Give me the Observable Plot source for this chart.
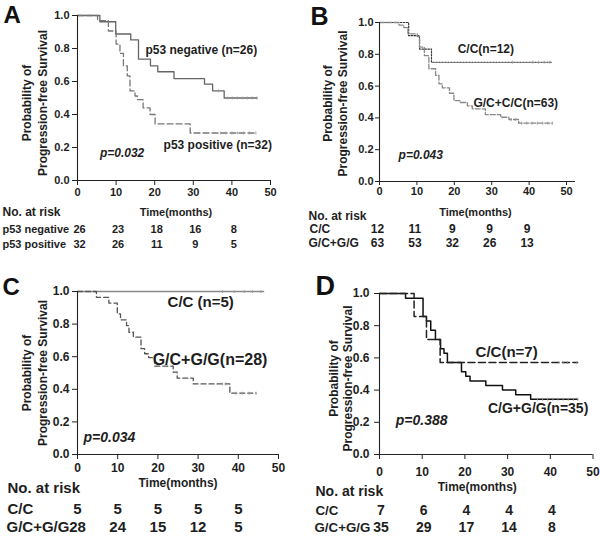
<!DOCTYPE html>
<html><head><meta charset="utf-8">
<script src="https://cdn.jsdelivr.net/npm/d3@7"></script>
<script src="https://cdn.jsdelivr.net/npm/@observablehq/plot@0.6"></script>
<style>
body{margin:0;background:#fff;}
#fig{position:relative;width:600px;height:538px;overflow:hidden;background:#fff;}
.panel{position:absolute;width:300px;height:269px;}
</style></head><body><div id="fig"></div><script>
// ---------- shared ----------
const yTicks = [0, 0.2, 0.4, 0.6, 0.8, 1.0];
const xTicks = [0, 10, 20, 30, 40, 50];
const riskTimes = [0, 10, 20, 30, 40];
const yTitleLines = ["Probability of", "Progression-free Survival"];
const xTitle = "Time(months)";
const riskHeader = "No. at risk";

// ---------- Panel A ----------
const aNegTime = [0, 5.8, 9.9, 13.8, 15.8, 18.9, 20.8, 25, 32.9, 35, 38, 46.5];
const aNegSurv = [1, 0.962, 0.888, 0.852, 0.736, 0.695, 0.659, 0.618, 0.584, 0.543, 0.5, 0.5];
const aNegCensor = [36.5, 38.8, 40.1, 41.4, 42.7, 44, 45.3, 46.5];
const aPosTime = [0, 5.2, 8, 10, 11, 11.9, 12.9, 13.6, 14.9, 15.5, 17, 18.8, 20.1, 29.2, 46.2];
const aPosSurv = [1, 0.969, 0.906, 0.827, 0.77, 0.695, 0.634, 0.543, 0.512, 0.49, 0.44, 0.40, 0.343, 0.288, 0.288];
const aPosCensor = [37, 38.5, 40, 41.5, 43, 44.5, 46.2];
const aGroups = ["p53 negative (n=26)", "p53 positive (n=32)"];
const aRiskLabels = ["p53 negative", "p53 positive"];
const aRiskNeg = [26, 23, 18, 16, 8];
const aRiskPos = [32, 26, 11, 9, 5];
const aP = "p=0.032";

// ---------- Panel B ----------
const bCCTime = [0, 7.8, 10.7, 13.9, 45.9];
const bCCSurv = [1, 0.917, 0.833, 0.75, 0.75];
const bCCCensor = [35.6, 41, 42.5, 44, 45.5];
const bGTime = [0, 5.2, 6.5, 7.6, 10.1, 10.7, 12, 13.2, 15, 15.9, 16.8, 18.7, 19.9, 21.5, 23.5, 24.8, 28.3, 32.4, 34.6, 37.2, 46.2];
const bGSurv = [1, 0.984, 0.968, 0.929, 0.912, 0.845, 0.792, 0.709, 0.667, 0.614, 0.589, 0.555, 0.509, 0.497, 0.476, 0.457, 0.42, 0.404, 0.39, 0.367, 0.367];
const bGCensor = [35.2, 36.3, 38, 39.4, 40.8, 42.2, 43.6, 45, 46.2];
const bGroups = ["C/C(n=12)", "G/C+C/C(n=63)"];
const bRiskLabels = ["C/C", "G/C+G/G"];
const bRiskCC = [12, 11, 9, 9, 9];
const bRiskG = [63, 53, 32, 26, 13];
const bP = "p=0.043";

// ---------- Panel C ----------
const cCCTime = [0, 46.3];
const cCCSurv = [1, 1];
const cCCCensor = [36.1, 39, 41.5, 43.5, 45.6];
const cGTime = [0, 4.7, 7.8, 9.9, 10.7, 12.2, 12.8, 13.9, 15.8, 16.7, 17.7, 19.2, 23.8, 24.8, 28.8, 37.9, 44.4];
const cGSurv = [1, 0.964, 0.929, 0.863, 0.826, 0.791, 0.75, 0.72, 0.649, 0.618, 0.594, 0.542, 0.505, 0.468, 0.433, 0.376, 0.376];
const cGCensor = [36.1, 36.9, 39.4, 41, 42.7, 44.4];
const cGroups = ["C/C (n=5)", "G/C+G/G(n=28)"];
const cRiskLabels = ["C/C", "G/C+G/G"];
const cRiskCC = [5, 5, 5, 5, 5];
const cRiskG = [28, 24, 15, 12, 5];
const cP = "p=0.034";

// ---------- Panel D ----------
const dGTime = [0, 6.1, 10.2, 11, 12, 13.1, 14.3, 15.1, 15.9, 19.2, 20.2, 21.2, 24.9, 28.8, 31.9, 35.4, 46.4];
const dGSurv = [1, 0.971, 0.857, 0.829, 0.771, 0.714, 0.657, 0.629, 0.571, 0.514, 0.486, 0.457, 0.429, 0.40, 0.371, 0.343, 0.343];
const dGCensor = [37, 38.2, 39.4, 40.6, 41.8, 43, 44.2, 45.4, 46.4];
const dCCTime = [0, 8.1, 11, 14.2, 46.4];
const dCCSurv = [1, 0.857, 0.714, 0.571, 0.571];
const dCCCensor = [42, 43, 44, 46.2];
const dGroups = ["C/C(n=7)", "C/G+G/G(n=35)"];
const dRiskLabels = ["C/C", "G/C+G/G"];
const dRiskCC = [7, 6, 4, 4, 4];
const dRiskG = [35, 29, 17, 14, 8];
const dP = "p=0.388";

// ---------- helpers ----------
const FONT = "Arial, 'Liberation Sans', Helvetica, sans-serif";
const INK = "#1e1e1e";
function steps(T, S) { return T.map((t, i) => ({t, s: S[i]})); }
function survAt(T, S, t) { let s = S[0]; for (let i = 0; i < T.length; i++) if (T[i] <= t) s = S[i]; return s; }
function censorPts(C, T, S) { return C.map(t => ({t, s: survAt(T, S, t)})); }
const vTick = { draw(ctx, size) { const r = Math.sqrt(size / Math.PI); ctx.moveTo(0, -r); ctx.lineTo(0, r); } };

function kmPanel(p) {
  const m = p.margin;
  const marks = [];
  for (const c of p.curves) {
    marks.push(Plot.line(steps(c.T, c.S), {x: "t", y: "s", curve: "step-after", stroke: c.stroke, strokeWidth: c.width, strokeDasharray: c.dash}));
    marks.push(Plot.dot(censorPts(c.C, c.T, c.S), {x: "t", y: "s", symbol: vTick, r: 1.5, fill: "none", stroke: c.cstroke || "#9a9a9a", strokeWidth: 0.9}));
  }
  marks.push(Plot.ruleX([0], {stroke: "#222", strokeWidth: 1.1}));
  marks.push(Plot.ruleY([0], {stroke: "#222", strokeWidth: 1.1}));
  marks.push(Plot.axisX({ticks: xTicks, tickSize: p.tickSize, tickPadding: p.xPad, tickFormat: d => String(d), label: null, fontSize: p.tickFont, fontWeight: "bold", fill: INK}));
  marks.push(Plot.axisY({ticks: yTicks, tickSize: p.tickSize, tickPadding: p.yPad, tickFormat: d => d.toFixed(1), label: null, fontSize: p.tickFont, fontWeight: "bold", fill: INK}));
  // group labels & p value
  p.labels.forEach(L => {
    marks.push(Plot.text([L.text], {x: L.x, y: L.y, text: d => d, textAnchor: "start", lineAnchor: "middle", fontSize: L.size, fontWeight: "bold", fontStyle: L.italic ? "italic" : "normal", fill: INK}));
  });
  // y title (two rotated lines)
  yTitleLines.forEach((line, i) => {
    marks.push(Plot.text([line], {frameAnchor: "left", text: d => d, rotate: -90, dx: p.yt.dx[i], dy: p.yt.dy, fontSize: p.yt.size, fontWeight: "bold", fill: INK, textAnchor: "middle", lineAnchor: "middle"}));
  });
  // x title
  marks.push(Plot.text([xTitle], {frameAnchor: "bottom", text: d => d, dy: p.xt.dy, dx: p.xt.dx, fontSize: p.xt.size, fontWeight: "bold", fill: INK, lineAnchor: "middle"}));
  // risk table
  marks.push(Plot.text([riskHeader], {frameAnchor: "bottom-left", text: d => d, textAnchor: "start", lineAnchor: "middle", dx: p.risk.headX - m.left, dy: p.risk.headDy, fontSize: p.risk.headSize, fontWeight: "bold", fill: INK}));
  p.risk.rows.forEach(r => {
    marks.push(Plot.text([r.label], {frameAnchor: "bottom-left", text: d => d, textAnchor: "start", lineAnchor: "middle", dx: r.x - m.left, dy: r.dy, fontSize: p.risk.labelSize || p.risk.size, fontWeight: "bold", fill: INK}));
    marks.push(Plot.text(riskTimes, {x: d => d, text: (d, i) => String(r.vals[i]), frameAnchor: "bottom", lineAnchor: "middle", dx: p.risk.numDx, dy: r.dy, fontSize: p.risk.size, fontWeight: "bold", fill: INK}));
  });
  // panel letter
  marks.push(Plot.text([p.letter.text], {frameAnchor: "top-left", text: d => d, textAnchor: "start", lineAnchor: "top", dx: p.letter.dx, dy: p.letter.dy, fontSize: p.letter.size, fontWeight: "bold", fill: "#111"}));

  return Plot.plot({
    width: 300, height: 269,
    marginTop: m.top, marginRight: m.right, marginBottom: m.bottom, marginLeft: m.left,
    x: {domain: p.xDomain},
    y: {domain: [0, 1]},
    style: {fontFamily: FONT, color: "#222", background: "transparent", overflow: "visible"},
    marks
  });
}

const panels = [
  { pos: [0, 0],
    margin: {top: 15, right: 30, bottom: 89, left: 77}, xDomain: [0, 50],
    curves: [
      {T: aNegTime, S: aNegSurv, C: aNegCensor, stroke: "#666", width: 1.3, dash: null},
      {T: aPosTime, S: aPosSurv, C: aPosCensor, stroke: "#777", width: 1.3, dash: "6,3"}
    ],
    labels: [
      {text: aGroups[0], x: 17.6, y: 0.788, size: 12},
      {text: aGroups[1], x: 22.3, y: 0.212, size: 12},
      {text: aP, x: 5.8, y: 0.164, size: 12, italic: true}
    ],
    tickFont: 11, tickSize: 5, xPad: 3, yPad: 3,
    yt: {dx: [-50, -34], dy: 5, size: 12},
    xt: {dy: 32, dx: 2, size: 11},
    risk: {headX: 2, headDy: 32, headSize: 12, size: 11, numDx: 2,
      rows: [{label: aRiskLabels[0], vals: aRiskNeg, x: 2, dy: 49}, {label: aRiskLabels[1], vals: aRiskPos, x: 2, dy: 64}]},
    letter: {text: "A", dx: -74, dy: -10, size: 24}
  },
  { pos: [300, 0],
    margin: {top: 22, right: 25, bottom: 88, left: 79}, xDomain: [0, 52.4],
    curves: [
      {T: bCCTime, S: bCCSurv, C: bCCCensor, stroke: "#333", width: 1.2, dash: "1.5,1.5"},
      {T: bGTime, S: bGSurv, C: bGCensor, stroke: "#888", width: 1.3, dash: "5,2"}
    ],
    labels: [
      {text: bGroups[0], x: 20.9, y: 0.83, size: 12},
      {text: bGroups[1], x: 25.1, y: 0.49, size: 12},
      {text: bP, x: 5.1, y: 0.164, size: 12, italic: true}
    ],
    tickFont: 11, tickSize: 4, xPad: 2, yPad: 2,
    yt: {dx: [-51.5, -36], dy: 1.5, size: 12},
    xt: {dy: 31, dx: -2, size: 11},
    risk: {headX: 8, headDy: 35, headSize: 12, size: 12, numDx: -2,
      rows: [{label: bRiskLabels[0], vals: bRiskCC, x: 9, dy: 48}, {label: bRiskLabels[1], vals: bRiskG, x: 8, dy: 62}]},
    letter: {text: "B", dx: -69, dy: -15, size: 25}
  },
  { pos: [0, 269],
    margin: {top: 22, right: 22, bottom: 84, left: 77}, xDomain: [0, 50],
    curves: [
      {T: cCCTime, S: cCCSurv, C: cCCCensor, stroke: "#888", width: 1.4, dash: null},
      {T: cGTime, S: cGSurv, C: cGCensor, stroke: "#555", width: 1.3, dash: "5,3"}
    ],
    labels: [
      {text: cGroups[0], x: 22.4, y: 0.933, size: 15},
      {text: cGroups[1], x: 18.7, y: 0.583, size: 16},
      {text: cP, x: 1.5, y: 0.104, size: 14, italic: true}
    ],
    tickFont: 12, tickSize: 5, xPad: 4, yPad: 3,
    yt: {dx: [-50, -34], dy: 0, size: 12},
    xt: {dy: 29, dx: 0, size: 12},
    risk: {headX: 7, headDy: 34, headSize: 15, size: 15, numDx: 0,
      rows: [{label: cRiskLabels[0], vals: cRiskCC, x: 7, dy: 55}, {label: cRiskLabels[1], vals: cRiskG, x: 6, dy: 73}]},
    letter: {text: "C", dx: -75, dy: -14, size: 24}
  },
  { pos: [300, 269],
    margin: {top: 24, right: 7.5, bottom: 84, left: 79}, xDomain: [0, 50],
    curves: [
      {T: dGTime, S: dGSurv, C: dGCensor, stroke: "#111", width: 1.5, dash: null},
      {T: dCCTime, S: dCCSurv, C: dCCCensor, stroke: "#222", width: 1.5, dash: "7,3.5"}
    ],
    labels: [
      {text: dGroups[0], x: 22.5, y: 0.634, size: 15},
      {text: dGroups[1], x: 25.4, y: 0.286, size: 14},
      {text: dP, x: 3.8, y: 0.211, size: 14, italic: true}
    ],
    tickFont: 12, tickSize: 5, xPad: 8, yPad: 5,
    yt: {dx: [-45.5, -31], dy: 4.5, size: 12},
    xt: {dy: 33, dx: -9, size: 12},
    risk: {headX: 15, headDy: 37, headSize: 14, size: 14, labelSize: 13.3, numDx: 1.5,
      rows: [{label: dRiskLabels[0], vals: dRiskCC, x: 15, dy: 56}, {label: dRiskLabels[1], vals: dRiskG, x: 14, dy: 73}]},
    letter: {text: "D", dx: -64, dy: -18, size: 27}
  }
];

const fig = document.getElementById("fig");
panels.forEach(p => {
  const div = document.createElement("div");
  div.className = "panel";
  div.style.left = p.pos[0] + "px";
  div.style.top = p.pos[1] + "px";
  div.appendChild(kmPanel(p));
  fig.appendChild(div);
});
</script></body></html>
